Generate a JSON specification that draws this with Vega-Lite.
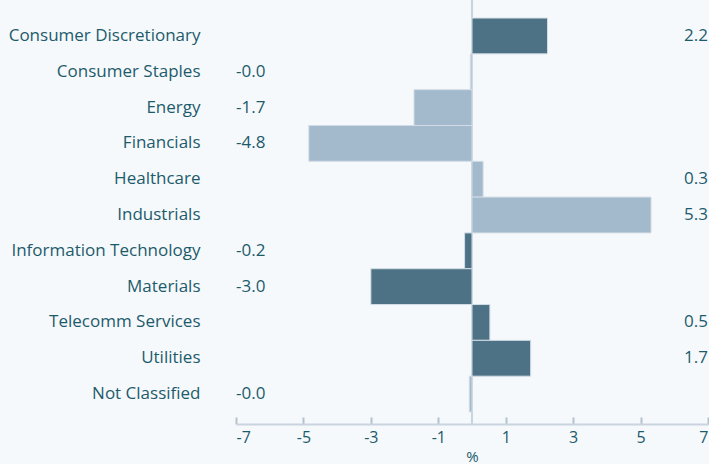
{
  "$schema": "https://vega.github.io/schema/vega-lite/v6.json",
  "width": 472,
  "height": 424,
  "autosize": {"type": "none"},
  "padding": {"left": 236, "top": 0, "right": 1, "bottom": 40},
  "background": "#f5f9fc",
  "config": {
    "view": {"stroke": null},
    "font": "Open Sans",
    "locale": {"number": {"decimal": ".", "thousands": ",", "grouping": [3], "currency": ["$", ""], "minus": "-"}}
  },
  "data": {
    "values": [
      {"sector": "Consumer Discretionary", "value": 2.24, "label": "2.2", "group": "dark"},
      {"sector": "Consumer Staples", "value": -0.05, "label": "-0.0", "group": "light"},
      {"sector": "Energy", "value": -1.72, "label": "-1.7", "group": "light"},
      {"sector": "Financials", "value": -4.84, "label": "-4.8", "group": "light"},
      {"sector": "Healthcare", "value": 0.33, "label": "0.3", "group": "light"},
      {"sector": "Industrials", "value": 5.31, "label": "5.3", "group": "light"},
      {"sector": "Information Technology", "value": -0.22, "label": "-0.2", "group": "dark"},
      {"sector": "Materials", "value": -3.0, "label": "-3.0", "group": "dark"},
      {"sector": "Telecomm Services", "value": 0.53, "label": "0.5", "group": "dark"},
      {"sector": "Utilities", "value": 1.74, "label": "1.7", "group": "dark"},
      {"sector": "Not Classified", "value": -0.08, "label": "-0.0", "group": "light"}
    ]
  },
  "encoding": {
    "y": {
      "field": "sector",
      "type": "nominal",
      "sort": null,
      "scale": {"paddingInner": 0, "paddingOuter": 0.42, "align": 0.6},
      "axis": {
        "title": null,
        "domain": false,
        "ticks": false,
        "labelPadding": 36,
        "labelFontSize": 17,
        "labelLimit": 400,
        "labelColor": "#1d5b6b",
        "labelFont": "Open Sans"
      }
    }
  },
  "layer": [
    {
      "mark": {"type": "rule", "color": "#c9d4de", "strokeWidth": 1.5},
      "encoding": {"x": {"datum": 0, "type": "quantitative"}, "y": null}
    },
    {
      "mark": {"type": "bar", "stroke": "#d3dde6", "strokeWidth": 1},
      "encoding": {
        "x": {
          "field": "value",
          "type": "quantitative",
          "scale": {"domain": [-7, 7], "nice": false, "zero": false},
          "axis": {
            "title": "%",
            "titleFont": "Open Sans",
            "titleFontWeight": "normal",
            "titleFontSize": 15,
            "titleColor": "#1d5b6b",
            "titlePadding": 4,
            "values": [-7, -5, -3, -1, 1, 3, 5, 7],
            "format": "d",
            "grid": false,
            "domainColor": "#c9d4de",
            "domainWidth": 2,
            "tickColor": "#b5c2ce",
            "tickSize": -7,
            "tickWidth": 2,
            "labelPadding": 12,
            "labelFontSize": 16,
            "labelColor": "#1d5b6b",
            "labelFont": "Open Sans"
          }
        },
        "color": {
          "field": "group",
          "type": "nominal",
          "scale": {"domain": ["dark", "light"], "range": ["#4d7285", "#a3b9cc"]},
          "legend": null
        }
      }
    },
    {
      "transform": [{"filter": "datum.value < 0"}],
      "mark": {"type": "text", "align": "left", "fontSize": 17, "color": "#1d5b6b", "font": "Open Sans"},
      "encoding": {
        "x": {"datum": -7, "type": "quantitative"},
        "text": {"field": "label", "type": "nominal"}
      }
    },
    {
      "transform": [{"filter": "datum.value >= 0"}],
      "mark": {"type": "text", "align": "right", "fontSize": 17, "color": "#1d5b6b", "font": "Open Sans"},
      "encoding": {
        "x": {"datum": 7, "type": "quantitative"},
        "text": {"field": "label", "type": "nominal"}
      }
    }
  ]
}
